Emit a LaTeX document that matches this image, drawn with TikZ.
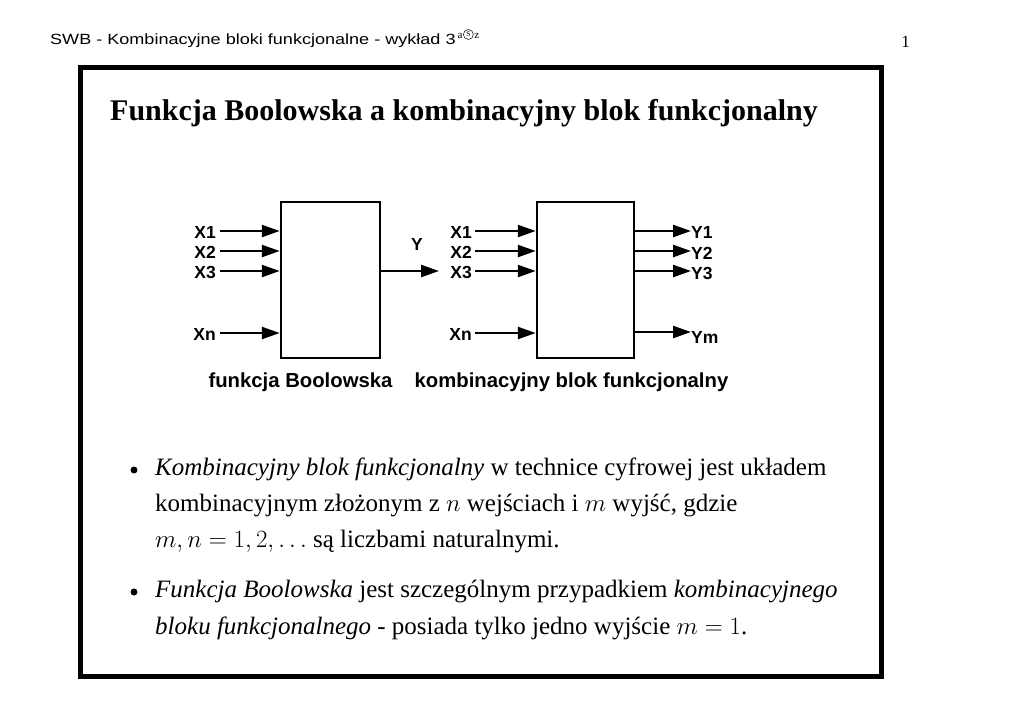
\documentclass[tikz,border=0pt]{standalone}
\usepackage[no-math]{fontspec}
\setmainfont{Liberation Serif}
\newfontfamily\hel{Liberation Sans}
\usetikzlibrary{arrows.meta}
\tikzset{
  blockbox/.style={draw, line width=2.5pt, minimum width=99pt, minimum height=156pt, inner sep=0pt},
  arr/.style={line width=2.5pt, -{Triangle[length=18pt,width=12pt]}},
  sig/.style={font=\hel\bfseries\fontsize{17.5}{20}\selectfont, inner sep=0pt},
  captxt/.style={font=\hel\bfseries\fontsize{20.3}{23}\selectfont, inner sep=0pt},
  body/.style={font=\fontsize{25}{30}\selectfont, inner sep=0pt, anchor=base west},
  dot/.style={circle, fill, inner sep=0pt, minimum size=7pt},
  suptxt/.style={inner sep=0pt, font=\rmfamily\fontsize{11}{12}\selectfont}
}
\begin{document}
\begin{tikzpicture}[x=1pt,y=-1pt]
\useasboundingbox[fill=white] (0,0) rectangle (1024,724);
% header
\node[anchor=base west, inner sep=0pt, font=\hel\fontsize{14.8}{17}\selectfont] (hdr) at (50,44.5)
  {\scalebox{1.22}[1]{SWB - Kombinacyjne bloki funkcjonalne - wykład 3}};
\node[suptxt, anchor=base west] (sa) at ([xshift=1.5pt,yshift=6pt]hdr.base east) {a};
\node[circle, draw, line width=0.5pt, inner sep=0.6pt, minimum size=10pt, anchor=west, font=\rmfamily\fontsize{7.5}{8}\selectfont] (ss) at ([xshift=0.5pt,yshift=1.5pt]sa.east) {S};
\node[suptxt, anchor=base west] (sz) at ([xshift=0.6pt]ss.east |- sa.base) {z};
\node[anchor=base east, inner sep=0pt, font=\fontsize{17}{20}\selectfont] (pg) at (910,47) {1};
% frame
\draw[line width=5pt] (80.5,67) rectangle (881.5,676);
% title
\node[anchor=base west, inner sep=0pt, font=\bfseries\fontsize{30}{34}\selectfont] (title) at (110,120)
  {Funkcja Boolowska a kombinacyjny blok funkcjonalny};
% boxes
\node[blockbox] (b1) at (330.5,280) {};
\node[blockbox, minimum width=97pt] (b2) at (585.5,280) {};
% left inputs
\node[sig, anchor=east] (lx1) at (216,232) {X1};
\node[sig, anchor=east] (lx2) at (216,252) {X2};
\node[sig, anchor=east] (lx3) at (216,272) {X3};
\node[sig, anchor=east] (lxn) at (216,334) {Xn};
\draw[arr] ([xshift=4pt,yshift=1pt]lx1.east) -- (b1.west |- 0,231);
\draw[arr] ([xshift=4pt,yshift=1pt]lx2.east) -- (b1.west |- 0,251);
\draw[arr] ([xshift=4pt,yshift=1pt]lx3.east) -- (b1.west |- 0,271);
\draw[arr] ([xshift=4pt,yshift=1pt]lxn.east) -- (b1.west |- 0,333);
% Y output
\coordinate (yend) at (439,271);
\draw[arr] (b1.east |- yend) -- (yend);
\node[sig] (ly) at (417,244) {Y};
% right inputs
\node[sig, anchor=east] (rx1) at (472,232) {X1};
\node[sig, anchor=east] (rx2) at (472,252) {X2};
\node[sig, anchor=east] (rx3) at (472,272) {X3};
\node[sig, anchor=east] (rxn) at (472,334) {Xn};
\draw[arr] ([xshift=3pt,yshift=1pt]rx1.east) -- (b2.west |- 0,231);
\draw[arr] ([xshift=3pt,yshift=1pt]rx2.east) -- (b2.west |- 0,251);
\draw[arr] ([xshift=3pt,yshift=1pt]rx3.east) -- (b2.west |- 0,271);
\draw[arr] ([xshift=3pt,yshift=1pt]rxn.east) -- (b2.west |- 0,333);
% right outputs
\node[sig, anchor=west] (ry1) at (691,232.5) {Y1};
\node[sig, anchor=west] (ry2) at (691,253) {Y2};
\node[sig, anchor=west] (ry3) at (691,273.5) {Y3};
\node[sig, anchor=west] (rym) at (691,337) {Ym};
\draw[arr] (b2.east |- 0,231) -- (ry1.west |- 0,231);
\draw[arr] (b2.east |- 0,251) -- (ry2.west |- 0,251);
\draw[arr] (b2.east |- 0,271) -- (ry3.west |- 0,271);
\draw[arr] (b2.east |- 0,332) -- (rym.west |- 0,332);
% captions
\node[captxt] (c1) at (300.5,382) {funkcja Boolowska};
\node[captxt] (c2) at (571.5,382) {kombinacyjny blok funkcjonalny};
% bullets
\node[dot] (d1) at (134,470) {};
\node[body] (t1) at (155,475) {\textit{Kombinacyjny blok funkcjonalny} w technice cyfrowej jest układem};
\node[body] (t2) at (155,511) {kombinacyjnym złożonym z $n$ wejściach i $m$ wyjść, gdzie};
\node[body] (t3) at (155,547) {$m,n=1,2,\ldots$ są liczbami naturalnymi.};
\node[dot] (d2) at (134,592) {};
\node[body] (t4) at (155,597) {\textit{Funkcja Boolowska} jest szczególnym przypadkiem \textit{kombinacyjnego}};
\node[body] (t5) at (155,634) {\textit{bloku funkcjonalnego} - posiada tylko jedno wyjście $m=1$.};
\end{tikzpicture}
\end{document}
